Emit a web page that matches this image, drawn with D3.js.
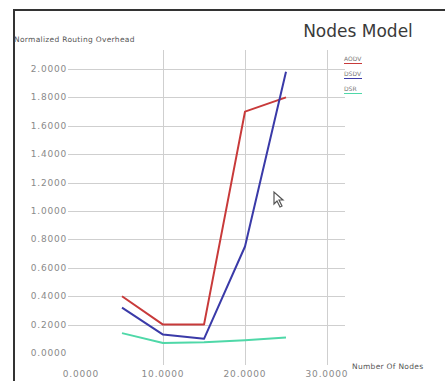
<!DOCTYPE html>
<html><head><meta charset="utf-8">
<script src="https://cdn.jsdelivr.net/npm/d3@7"></script>
<style>html,body{margin:0;padding:0;background:#fff;}svg{display:block;}</style>
</head><body>
<svg id="c" width="445" height="381"></svg>
<script>
const nodes = [5, 10, 15, 20, 25];
const aodv = [0.40, 0.20, 0.20, 1.70, 1.80];
const dsdv = [0.32, 0.13, 0.10, 0.75, 1.98];
const dsr  = [0.14, 0.07, 0.075, 0.09, 0.11];
const seriesNames = ["AODV", "DSDV", "DSR"];
const seriesColors = ["#c83a3a", "#3a3aa8", "#4fd8a8"];
const xTicks = [0, 10, 20, 30];
const yTicks = [0, 0.2, 0.4, 0.6, 0.8, 1.0, 1.2, 1.4, 1.6, 1.8, 2.0];

const svg = d3.select("#c");
const x = d3.scaleLinear().domain([0, 30]).range([81, 327]);
const y = d3.scaleLinear().domain([0, 2]).range([353, 69]);
const fmt = d3.format(".4f");

// frame
svg.append("line").attr("x1", 14).attr("x2", 14).attr("y1", 9).attr("y2", 381).attr("stroke", "#333").attr("stroke-width", 2);
svg.append("line").attr("x1", 13).attr("x2", 445).attr("y1", 10).attr("y2", 10).attr("stroke", "#333").attr("stroke-width", 2);

// horizontal grid
svg.append("g").selectAll("line").data(yTicks.filter(d => d > 0)).join("line")
  .attr("x1", 68).attr("x2", 345)
  .attr("y1", d => Math.round(y(d)) + 0.5).attr("y2", d => Math.round(y(d)) + 0.5)
  .attr("stroke", "#cfcfcf").attr("stroke-width", 1);
// vertical grid
svg.append("g").selectAll("line").data(xTicks.filter(d => d > 0)).join("line")
  .attr("x1", d => Math.round(x(d)) + 0.5).attr("x2", d => Math.round(x(d)) + 0.5)
  .attr("y1", 50).attr("y2", 365)
  .attr("stroke", "#cfcfcf").attr("stroke-width", 1);

// y labels
svg.append("g").selectAll("text").data(yTicks).join("text")
  .attr("x", 67).attr("y", d => y(d) + 3)
  .attr("text-anchor", "end").attr("font-family", "DejaVu Sans, sans-serif")
  .attr("font-size", 9).attr("letter-spacing", 0.8).attr("fill", "#8a8a8a").text(d => fmt(d));
// x labels
svg.append("g").selectAll("text").data(xTicks).join("text")
  .attr("x", d => x(d)).attr("y", 377)
  .attr("text-anchor", "middle").attr("font-family", "DejaVu Sans, sans-serif")
  .attr("font-size", 9).attr("letter-spacing", 0.8).attr("fill", "#8a8a8a").text(d => fmt(d));

// titles
svg.append("text").attr("x", 358).attr("y", 37).attr("text-anchor", "middle")
  .attr("font-family", "DejaVu Sans, sans-serif").attr("font-size", 17).attr("fill", "#3a3a3a")
  .text("Nodes Model");
svg.append("text").attr("x", 14).attr("y", 42)
  .attr("font-family", "DejaVu Sans, sans-serif").attr("font-size", 7.5).attr("letter-spacing", 0.3).attr("fill", "#555")
  .text("Normalized Routing Overhead");
svg.append("text").attr("x", 352).attr("y", 369)
  .attr("font-family", "DejaVu Sans, sans-serif").attr("font-size", 7.5).attr("letter-spacing", 0.3).attr("fill", "#555")
  .text("Number Of Nodes");

// lines
const data = [aodv, dsdv, dsr];
const line = d3.line().x((d, i) => x(nodes[i])).y(d => y(d));
[2, 0, 1].forEach(k => {
  svg.append("path").datum(data[k]).attr("d", line)
    .attr("fill", "none").attr("stroke", seriesColors[k]).attr("stroke-width", 2)
    .attr("stroke-linejoin", "round");
});

// legend
const lg = svg.append("g");
seriesNames.forEach((n, i) => {
  const yy = 61 + i * 15;
  lg.append("text").attr("x", 344).attr("y", yy)
    .attr("font-family", "DejaVu Sans, sans-serif").attr("font-size", 6).attr("fill", "#777").text(n);
  lg.append("line").attr("x1", 344).attr("x2", 362).attr("y1", yy + 2.5).attr("y2", yy + 2.5)
    .attr("stroke", seriesColors[i]).attr("stroke-width", 1);
});

// mouse cursor glyph
svg.append("path").attr("d", "M274,192 L274,204 L277,201 L280,207 L282,206 L279,200 L283,200 Z")
  .attr("fill", "#fff").attr("stroke", "#555").attr("stroke-width", 1.2);
</script>
</body></html>
